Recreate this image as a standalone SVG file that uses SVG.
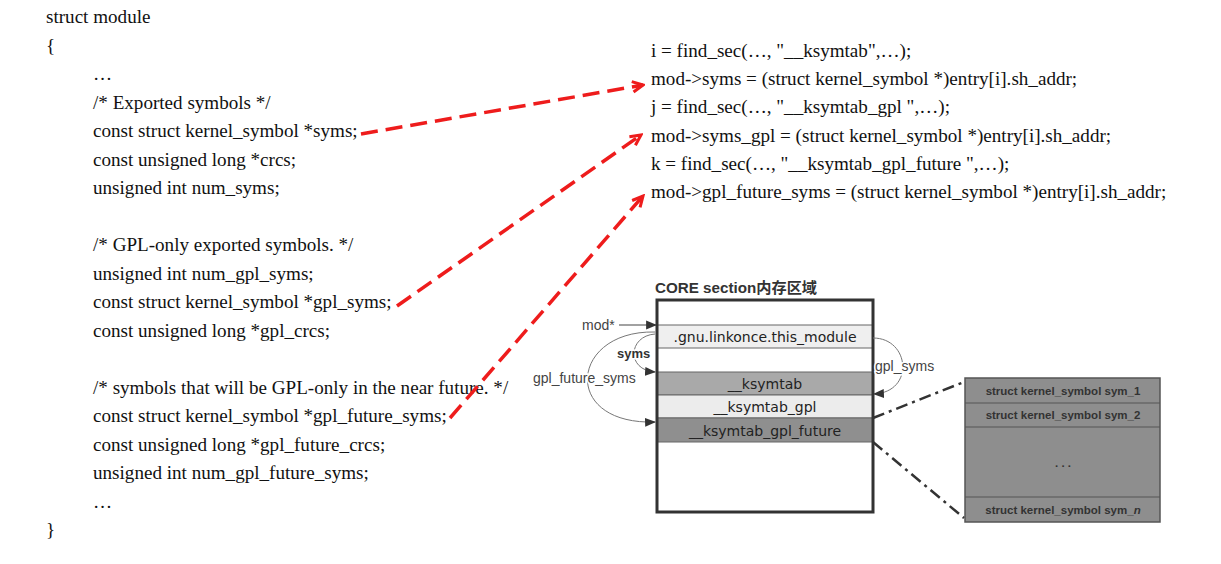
<svg xmlns="http://www.w3.org/2000/svg" width="1221" height="564" viewBox="0 0 1221 564">
<defs>
<style>
.code{font-family:"Liberation Serif","Times New Roman",serif;font-size:19.1px;fill:#111}
.lbl{font-family:"Liberation Sans",Arial,sans-serif;font-size:14px;fill:#444}
.lblb{font-family:"Liberation Sans",Arial,sans-serif;font-size:13px;font-weight:bold;fill:#333}
.halo{paint-order:stroke;stroke:#fff;stroke-width:3px}
.row{font-family:"DejaVu Sans",Verdana,sans-serif;font-size:14px;fill:#222;text-anchor:middle}
.sym{font-family:"Liberation Sans",Arial,sans-serif;font-size:11.5px;font-weight:bold;fill:#333;text-anchor:middle}
.red{fill:none;stroke:#ee1c1c;stroke-width:3.5;stroke-dasharray:17 8}
.arc{fill:none;stroke:#777;stroke-width:1}
.dd{fill:none;stroke:#333;stroke-width:2.5;stroke-dasharray:12 5 3 5}
</style>
<marker id="ra" viewBox="0 0 12 12" refX="10" refY="6" markerWidth="14" markerHeight="14" markerUnits="userSpaceOnUse" orient="auto">
<path d="M1,1.5 L10,6 L1,10.5" fill="none" stroke="#ee1c1c" stroke-width="2.6"/>
</marker>
<marker id="ta" viewBox="0 0 10 10" refX="9" refY="5" markerWidth="11" markerHeight="11" markerUnits="userSpaceOnUse" orient="auto">
<path d="M0,1 L10,5 L0,9 Z" fill="#333"/>
</marker>
</defs>
<rect width="1221" height="564" fill="#fff"/>

<g id="struct-module">
<text class="code" x="46" y="23">struct module</text>
<text class="code" x="46" y="51.5">{</text>
<text class="code" x="93" y="80">…</text>
<text class="code" x="93" y="108.5">/* Exported symbols */</text>
<text class="code" x="93" y="137">const struct kernel_symbol *syms;</text>
<text class="code" x="93" y="165.5">const unsigned long *crcs;</text>
<text class="code" x="93" y="194">unsigned int num_syms;</text>
<text class="code" x="93" y="251">/* GPL-only exported symbols. */</text>
<text class="code" x="93" y="279.5">unsigned int num_gpl_syms;</text>
<text class="code" x="93" y="308">const struct kernel_symbol *gpl_syms;</text>
<text class="code" x="93" y="336.5">const unsigned long *gpl_crcs;</text>
<text class="code" x="93" y="393.5">/* symbols that will be GPL-only in the near future. */</text>
<text class="code" x="93" y="422">const struct kernel_symbol *gpl_future_syms;</text>
<text class="code" x="93" y="450.5">const unsigned long *gpl_future_crcs;</text>
<text class="code" x="93" y="479">unsigned int num_gpl_future_syms;</text>
<text class="code" x="93" y="507.5">…</text>
<text class="code" x="46" y="536">}</text>
</g>

<g id="find-sec-code">
<text class="code" x="651" y="57">i = find_sec(…, "__ksymtab",…);</text>
<text class="code" x="651" y="85">mod-&gt;syms = (struct kernel_symbol *)entry[i].sh_addr;</text>
<text class="code" x="651" y="113">j = find_sec(…, "__ksymtab_gpl ",…);</text>
<text class="code" x="651" y="141.5">mod-&gt;syms_gpl = (struct kernel_symbol *)entry[i].sh_addr;</text>
<text class="code" x="651" y="170">k = find_sec(…, "__ksymtab_gpl_future ",…);</text>
<text class="code" x="651" y="198">mod-&gt;gpl_future_syms = (struct kernel_symbol *)entry[i].sh_addr;</text>
</g>

<g id="core-section">
<text x="655" y="293" style="font-family:'Liberation Sans','Noto Sans CJK SC',sans-serif;font-size:15.2px;font-weight:bold;fill:#333">CORE section内存区域</text>
<rect x="657" y="300" width="216" height="212" fill="#fff"/>
<rect x="657" y="325" width="216" height="23" fill="#efefef" stroke="#666" stroke-width="1"/>
<rect x="657" y="372" width="216" height="23" fill="#a9a9a9" stroke="#666" stroke-width="1"/>
<rect x="657" y="395" width="216" height="23" fill="#ececec" stroke="#666" stroke-width="1"/>
<rect x="657" y="418" width="216" height="24" fill="#8f8f8f" stroke="#666" stroke-width="1"/>
<rect x="657" y="300" width="216" height="212" fill="none" stroke="#333" stroke-width="3"/>
<text class="row" x="765" y="342">.gnu.linkonce.this_module</text>
<text class="row" x="765" y="389">__ksymtab</text>
<text class="row" x="765" y="412">__ksymtab_gpl</text>
<text class="row" x="765" y="436">__ksymtab_gpl_future</text>
</g>

<g id="kernel-symbols">
<rect x="965" y="378" width="195" height="144" fill="#8e8e8e" stroke="#555" stroke-width="1.5"/>
<line x1="965" y1="403" x2="1160" y2="403" stroke="#555" stroke-width="1"/>
<line x1="965" y1="427" x2="1160" y2="427" stroke="#555" stroke-width="1"/>
<line x1="965" y1="497" x2="1160" y2="497" stroke="#555" stroke-width="1"/>
<text class="sym" x="1063" y="395">struct kernel_symbol sym_1</text>
<text class="sym" x="1063" y="419">struct kernel_symbol sym_2</text>
<text class="sym" x="1063" y="467">. . .</text>
<text class="sym" x="1063" y="514">struct kernel_symbol sym_<tspan font-style="italic">n</tspan></text>
</g>

<g id="connectors">
<path class="red" d="M361,134 L643,85" marker-end="url(#ra)"/>
<path class="red" d="M397,306 L641,135" marker-end="url(#ra)"/>
<path class="red" d="M450,418 L643,196" marker-end="url(#ra)"/>
<line x1="619" y1="325" x2="656" y2="325" stroke="#444" stroke-width="1.2" marker-end="url(#ta)"/>
<path class="arc" d="M655,334 C628,336 626,370 655,372" marker-end="url(#ta)"/>
<path class="arc" d="M655,332 C570,330 560,425 655,422" marker-end="url(#ta)"/>
<path class="arc" d="M873,338 C910,338 915,392 874,394" marker-end="url(#ta)"/>
<path class="dd" d="M873,418 L964,382"/>
<path class="dd" d="M873,442 L964,518"/>
<text class="lbl" x="582" y="330">mod*</text>
<text class="lblb halo" x="617" y="358">syms</text>
<text class="lbl halo" x="533" y="383">gpl_future_syms</text>
<text class="lbl halo" x="875" y="371">gpl_syms</text>
</g>
</svg>
